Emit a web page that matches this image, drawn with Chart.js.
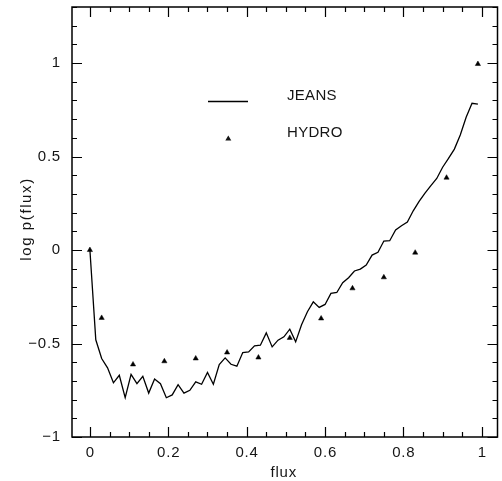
<!DOCTYPE html>
<html>
<head>
<meta charset="utf-8">
<script src="https://cdn.jsdelivr.net/npm/chart.js@4.4.1/dist/chart.umd.min.js"></script>
<style>
  html, body { margin: 0; padding: 0; background: #fff; }
  #wrap { width: 502px; height: 481px; position: relative; }
</style>
</head>
<body>
<div id="wrap"><canvas id="chart"></canvas></div>
<script>
// JEANS curve: flux sampled every 0.015
const jeansFlux = [];
for (let i = 0; i <= 66; i++) jeansFlux.push(+(i * 0.015).toFixed(3));
const jeansLogP = [
  0.0, -0.48, -0.58, -0.63, -0.71, -0.67, -0.79, -0.665, -0.715, -0.675,
  -0.765, -0.69, -0.715, -0.79, -0.775, -0.72, -0.765, -0.75, -0.705, -0.718,
  -0.655, -0.718, -0.612, -0.577, -0.611, -0.621, -0.548, -0.545, -0.512, -0.509,
  -0.443, -0.518, -0.482, -0.464, -0.423, -0.491, -0.40, -0.33, -0.277, -0.307,
  -0.291, -0.232, -0.227, -0.175, -0.148, -0.112, -0.102, -0.08, -0.027, -0.012,
  0.048, 0.05, 0.107, 0.13, 0.15, 0.21, 0.26, 0.305, 0.345, 0.383,
  0.443, 0.49, 0.54, 0.615, 0.71, 0.785, 0.78
];

// HYDRO points
const hydroFlux = [0, 0.03, 0.11, 0.19, 0.27, 0.35, 0.43, 0.51, 0.59, 0.67, 0.75, 0.83, 0.91, 0.99];
const hydroLogP = [0, -0.363, -0.612, -0.595, -0.58, -0.548, -0.575, -0.47, -0.366, -0.205, -0.146, -0.014, 0.387, 0.995];

const xMajorTicks = [0, 0.2, 0.4, 0.6, 0.8, 1];
const yMajorTicks = [-1, -0.5, 0, 0.5, 1];
const xTickLabels = ['0', '0.2', '0.4', '0.6', '0.8', '1'];
const yTickLabels = ['\u22121', '\u22120.5', '0', '0.5', '1'];

const fontFamily = '"Liberation Sans", Arial, sans-serif';

function toPoints(xs, ys) {
  return xs.map((x, i) => ({ x: x, y: ys[i] }));
}

// draws the frame, inward ticks on all sides, tick labels, axis titles and the legend
const framePlugin = {
  id: 'frame',
  afterDraw(chart) {
    const ctx = chart.ctx;
    const a = chart.chartArea;
    const xs = chart.scales.x;
    const ys = chart.scales.y;
    ctx.save();
    ctx.strokeStyle = '#000';
    ctx.lineWidth = 1.5;
    ctx.strokeRect(a.left, a.top, a.right - a.left, a.bottom - a.top);

    ctx.lineWidth = 1.2;
    ctx.beginPath();
    for (let k = -1; k <= 21; k++) {
      const v = k * 0.05;
      if (v < xs.min || v > xs.max) continue;
      const px = Math.round(xs.getPixelForValue(v)) + 0.5;
      const len = (k % 4 === 0) ? 10 : 5;
      ctx.moveTo(px, a.bottom); ctx.lineTo(px, a.bottom - len);
      ctx.moveTo(px, a.top); ctx.lineTo(px, a.top + len);
    }
    for (let k = -10; k <= 13; k++) {
      const v = k * 0.1;
      const py = Math.round(ys.getPixelForValue(v)) + 0.5;
      const len = (k % 5 === 0) ? 10 : 5;
      ctx.moveTo(a.left, py); ctx.lineTo(a.left + len, py);
      ctx.moveTo(a.right, py); ctx.lineTo(a.right - len, py);
    }
    ctx.stroke();

    ctx.fillStyle = '#151515';
    ctx.font = '15px ' + fontFamily;
    ctx.letterSpacing = '0.8px';
    ctx.textAlign = 'center';
    ctx.textBaseline = 'middle';
    xMajorTicks.forEach((v, i) => {
      ctx.fillText(xTickLabels[i], xs.getPixelForValue(v) + 0.4, a.bottom + 16);
    });
    ctx.textAlign = 'right';
    yMajorTicks.forEach((v, i) => {
      ctx.fillText(yTickLabels[i], a.left - 11, ys.getPixelForValue(v));
    });

    // axis titles
    ctx.textAlign = 'center';
    ctx.fillText('flux', (a.left + a.right) / 2 - 1, 473);
    ctx.save();
    ctx.letterSpacing = '1.6px';
    ctx.translate(27, 219);
    ctx.rotate(-Math.PI / 2);
    ctx.fillText('log p(flux)', 0, 0);
    ctx.restore();

    // legend
    ctx.letterSpacing = '0.3px';
    ctx.lineWidth = 1.3;
    ctx.beginPath();
    ctx.moveTo(208, 101.5); ctx.lineTo(248, 101.5);
    ctx.stroke();
    ctx.beginPath();
    ctx.moveTo(228.3, 135.5); ctx.lineTo(231.3, 140.5); ctx.lineTo(225.3, 140.5);
    ctx.closePath();
    ctx.fill();
    ctx.textAlign = 'left';
    ctx.fillText('JEANS', 287, 96);
    ctx.fillText('HYDRO', 287, 133);
    ctx.restore();
  }
};

const chart = new Chart(document.getElementById('chart'), {
  type: 'scatter',
  data: {
    datasets: [
      {
        label: 'JEANS',
        data: toPoints(jeansFlux, jeansLogP),
        showLine: true,
        borderColor: '#000',
        borderWidth: 1.3,
        pointRadius: 0,
        tension: 0,
        fill: false
      },
      {
        label: 'HYDRO',
        data: toPoints(hydroFlux, hydroLogP),
        showLine: false,
        pointStyle: 'triangle',
        pointRadius: 3,
        backgroundColor: '#000',
        borderColor: '#000',
        borderWidth: 0.5
      }
    ]
  },
  options: {
    responsive: true,
    maintainAspectRatio: false,
    animation: false,
    layout: { padding: { left: 72, top: 7, right: 2, bottom: 44 } },
    scales: {
      x: {
        type: 'linear',
        min: -0.0457,
        max: 1.04,
        grid: { display: false, drawTicks: false },
        border: { display: false },
        ticks: { display: false }
      },
      y: {
        type: 'linear',
        min: -1,
        max: 1.3,
        grid: { display: false, drawTicks: false },
        border: { display: false },
        ticks: { display: false }
      }
    },
    plugins: {
      legend: { display: false },
      tooltip: { enabled: false }
    }
  },
  plugins: [framePlugin]
});
</script>
</body>
</html>
